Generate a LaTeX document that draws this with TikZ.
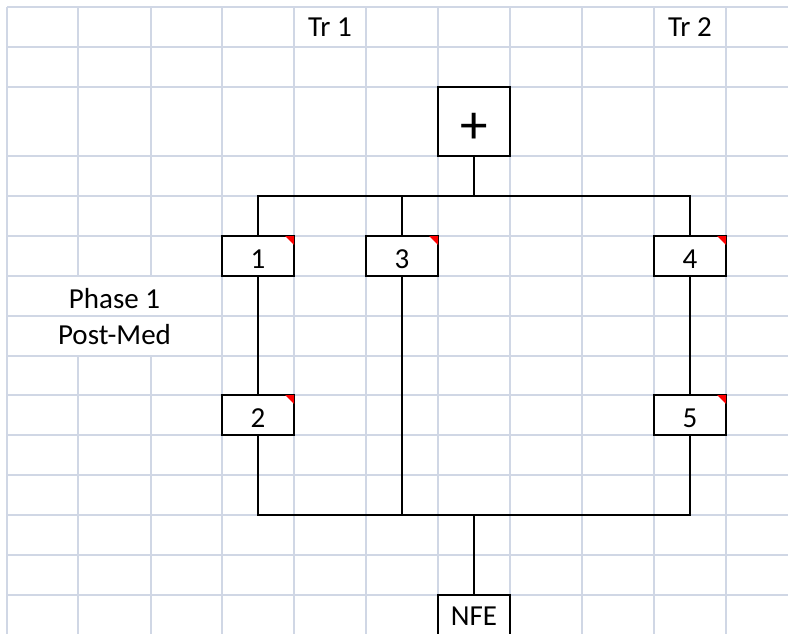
\documentclass[tikz,border=0pt]{standalone}
\usepackage{fontspec}
\setmainfont{Carlito}
\definecolor{gridc}{RGB}{208,215,229}
\begin{document}
\begin{tikzpicture}[x=1pt,y=-1pt,
  gridline/.style={draw=gridc,line width=2.2pt},
  cellbox/.style={draw=black,line width=2.4pt,fill=white,minimum width=72pt,inner sep=0pt,
    text height=32pt,text depth=8pt,font=\fontsize{29}{34}\selectfont},
  conn/.style={draw=black,line width=2.4pt},
  txt/.style={anchor=base,inner sep=0pt,font=\fontsize{29}{34}\selectfont},
  flag/.style={fill=red}
]
\path[use as bounding box] (0,0) rectangle (788,634);
\clip (0,0) rectangle (788,634);
\fill[white] (0,0) rectangle (788,634);
% spreadsheet grid
\foreach \x in {7,78,151,222,294,366,438,510,582,654,726}
  \draw[gridline] (\x,7) -- (\x,634);
\foreach \y in {7,47,87,156,196,236,276,316,356,395,435,475,515,555,595}
  \draw[gridline] (7,\y) -- (788,\y);
% text overflow hides grid lines
\fill[white] (8.2,277.2) rectangle (220.8,314.8);
\fill[white] (8.2,317.2) rectangle (220.8,354.8);
% labels
\node[txt] (tr1) at (330,37) {Tr 1};
\node[txt] (tr2) at (690,37) {Tr 2};
\node[txt] (ph) at (114.5,308) {Phase 1};
\node[txt] (pm) at (114.5,344) {Post-Med};
% boxes
\node[draw=black,line width=2.4pt,fill=white,minimum width=72pt,minimum height=69pt,inner sep=0pt,
  font=\fontsize{55}{60}\selectfont] (plus) at (474,121.5) {\raisebox{-7pt}[\height][\depth]{+}};
\node[cellbox] (b1) at (258,256) {1};
\node[cellbox] (b3) at (402,256) {3};
\node[cellbox] (b4) at (690,256) {4};
\node[cellbox] (b2) at (258,415) {2};
\node[cellbox] (b5) at (690,415) {5};
\node[cellbox,text height=30pt,text depth=10pt] (nfe) at (474,615) {NFE};
% connectors
\coordinate (tl) at (258,196);
\coordinate (tr) at (690,196);
\coordinate (bl) at (258,515);
\coordinate (br) at (690,515);
\draw[conn] (plus) -- (plus |- tl);
\draw[conn] (b1) -- (tl) -- (tr) -- (b4);
\draw[conn] (b3) -- (b3 |- tl);
\draw[conn] (b1) -- (b2);
\draw[conn] (b4) -- (b5);
\draw[conn] (b2) -- (bl) -- (br) -- (b5);
\draw[conn] (b3) -- (b3 |- bl);
\draw[conn] (nfe) -- (nfe |- bl);
% comment indicators
\foreach \n in {b1,b2,b3,b4,b5}
  \fill[flag] ([shift={(-1.2,1.2)}]\n.north east) -- ++(-9,0) -- ++(9,9) -- cycle;
\end{tikzpicture}
\end{document}
